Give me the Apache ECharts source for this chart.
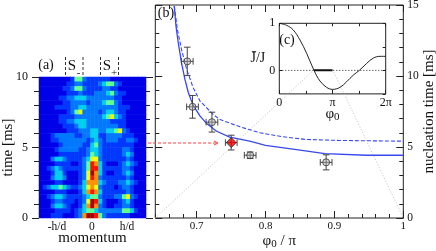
<!DOCTYPE html>
<html>
<head>
<meta charset="utf-8">
<style>html,body{margin:0;padding:0;background:#fff}#c{width:436px;height:251px}</style>
<script src="https://cdn.jsdelivr.net/npm/echarts@6/dist/echarts.min.js"></script>
</head>
<body>
<div id="c"></div>
<script>
// Panel (a): intensity by row (top = 10 ms, bottom = 0 ms) and momentum bin, read by eye on a 0-9 scale
const heatRows = [
[1,1,1,1,1,1,1,1,2,5,5,3,2,2,2,2,2,2,1,1,1,1,1,1,1,1,1],
[1,1,1,1,1,1,1,2,2,3,3,2,2,2,2,3,4,5,5,3,2,1,1,1,1,1,1],
[1,1,1,1,1,1,2,2,3,5,5,3,2,2,2,2,3,3,2,2,1,1,1,1,1,1,1],
[1,1,1,1,1,1,1,2,2,2,3,2,2,2,3,3,3,4,5,3,2,2,1,1,1,1,1],
[1,1,1,1,1,2,2,3,3,4,4,4,3,3,3,3,3,3,3,2,2,1,1,1,1,1,1],
[1,1,1,1,1,1,2,2,3,3,3,3,2,3,3,3,4,5,5,3,2,1,1,1,1,1,1],
[1,1,1,1,2,2,2,2,3,3,4,4,3,3,3,3,3,3,3,3,2,2,2,1,1,1,1],
[1,1,1,1,1,1,1,2,3,5,6,3,3,3,3,2,3,4,4,3,2,2,1,1,1,1,1],
[1,1,1,1,1,2,2,2,2,3,3,3,3,3,3,3,4,5,6,4,3,2,1,1,1,1,1],
[1,1,1,1,1,2,2,3,3,4,4,4,3,3,3,3,3,3,2,2,2,2,1,1,1,1,1],
[1,1,1,1,1,1,2,2,2,3,4,4,3,3,3,3,3,3,3,3,2,2,1,1,1,1,1],
[1,1,1,1,1,1,1,2,2,2,3,3,3,4,4,3,3,4,4,5,6,3,2,1,1,1,1],
[1,1,1,2,3,3,3,3,3,2,2,3,3,4,4,2,2,3,3,3,3,2,2,2,1,1,1],
[1,1,1,2,2,3,3,3,3,3,3,3,2,3,4,3,2,3,3,3,2,2,3,3,2,1,1],
[1,1,1,1,1,2,3,3,3,3,3,2,2,4,5,3,2,2,2,2,2,2,2,2,1,1,1],
[1,1,1,1,2,3,3,3,3,3,2,2,3,4,4,3,2,2,2,2,2,3,3,2,1,1,1],
[1,1,1,1,1,2,2,2,2,2,2,2,3,5,4,3,2,2,2,2,2,3,4,3,1,1,1],
[1,1,1,3,4,4,3,2,2,2,2,3,4,6,6,3,2,2,2,2,2,2,3,2,1,1,1],
[1,1,1,1,2,2,2,2,1,1,2,3,5,8,7,4,2,1,1,1,2,3,4,3,2,1,1],
[1,1,2,3,4,3,2,2,2,2,2,3,5,8,8,4,2,2,2,2,2,3,3,2,1,1,1],
[1,1,1,2,4,4,2,1,1,1,2,3,6,9,7,4,2,1,1,2,2,3,4,3,1,1,1],
[1,1,1,3,4,4,3,1,1,1,2,3,6,8,7,3,2,2,2,2,2,2,3,2,1,1,1],
[1,1,1,1,2,2,1,1,1,1,2,4,7,7,7,4,3,2,2,2,3,3,4,3,2,1,1],
[1,2,3,4,4,5,4,3,2,2,3,4,6,7,6,3,2,2,2,1,2,3,3,2,1,1,1],
[1,1,1,1,2,2,2,1,1,1,2,4,7,8,7,4,2,2,2,2,2,2,3,2,1,1,1],
[1,1,2,3,4,4,3,2,2,2,2,3,4,5,5,3,2,2,2,3,3,5,6,3,2,1,1],
[1,1,1,2,3,3,2,2,2,1,2,3,6,9,8,4,2,1,1,1,2,3,4,2,1,1,1],
[1,1,1,3,4,4,3,2,1,1,2,4,7,9,7,3,2,1,1,2,2,3,3,2,1,1,1],
[1,1,1,1,2,2,2,2,1,2,3,4,5,5,4,3,3,3,3,3,3,5,5,4,2,1,1],
[1,1,1,2,2,2,1,1,1,2,3,7,9,9,8,5,3,2,2,2,2,2,2,1,1,1,1]
];
const jet = ['#00009a','#0000e8','#0038ff','#0078ff','#00d0f0','#60ff90','#f0ff10','#ff9000','#ff1000','#a80000'];
const momentumTicks = [-1,0,1];
const momentumTickLabels = ['-h/d','0','h/d'];

// Panel (b): nucleation time curves and measured points
const solidX = [0.6675,0.670,0.6733,0.678,0.683,0.688,0.695,0.705,0.7145,0.729,0.748,0.777,0.8,0.845,0.886,0.946,1];
const solidY = [14.93,13.52,12.35,10.94,9.76,8.82,7.93,7.17,6.65,6.11,5.69,5.41,5.12,4.82,4.54,4.42,4.42];
const dashedX = [0.6675,0.672,0.678,0.6855,0.695,0.705,0.724,0.734,0.763,0.792,0.825,0.859,0.908,1];
const dashedY = [14.93,13.29,11.88,10.47,9.17,8.23,7.29,6.93,6.42,6.0,5.72,5.53,5.46,5.41];
const pointX = [0.6864,0.694,0.7222,0.7502,0.7777,0.888];
const pointY = [11.03,7.83,6.75,5.31,4.42,3.92];
const pointXErr = [0.0085,0.0085,0.0085,0.0085,0.0085,0.0085];
const pointYErr = [1.0,0.8,0.7,0.52,0.23,0.53];
const highlightedPoint = 3;
const guideLeftX = [0.64,0.8704];
const guideLeftY = [0,10.44];
const guideRightX = [0.8974,1];
const guideRightY = [10.44,0];

// Panel (c): J-bar / J against phi0 / pi
const insetX = [0,0.138,0.263,0.389,0.514,0.652,0.765,0.89,1,1.141,1.266,1.392,1.505,1.643,1.768,1.893,2];
const insetY = [1,0.957,0.858,0.645,0.362,0,-0.227,-0.362,-0.404,-0.362,-0.241,-0.1,0,0.149,0.262,0.298,0.298];
const zeroLineX = [0,2];
const zeroLineY = [0,0];
const thickX = [0.652,1];
const thickY = [0,0];

const zip = (a,b) => a.map((v,i)=>[v,b[i]]);
const steps = (a,b,s) => { const o=[]; for(let v=a; v<=b+1e-9; v+=s) o.push(+v.toFixed(4)); return o; };
const FONT = '"Liberation Serif","Times New Roman",serif';
const INK = '#222';

const heatData = [];
heatRows.forEach((row,r)=>row.forEach((v,c)=>heatData.push([c,r,v])));

const G = {a:1,b:2,c:3};
const xAxes = [], yAxes = [];
function base(gridIndex,position,min,max,ticks,len,inside,extra){
  return Object.assign({
    type:'value',gridIndex,position,min,max,
    splitLine:{show:false},
    nameMoveOverlap:false,
    axisLine:{show:false,onZero:false},
    axisTick:{show:true,customValues:ticks,length:len,inside,lineStyle:{color:INK,width:1}},
    axisLabel:{show:false,customValues:ticks}
  },extra||{});
}
function labelStyle(size,margin,values,fmt){
  return {show:true,customValues:values,fontSize:size,margin,color:'#111',fontFamily:FONT,formatter:fmt,hideOverlap:false,showMinLabel:true,showMaxLabel:true};
}
// heat categories
xAxes.push({type:'category',gridIndex:0,data:heatRows[0].map((_,i)=>i),show:false});
yAxes.push({type:'category',gridIndex:0,data:heatRows.map((_,i)=>i),inverse:true,show:false});
// (a) overlay
const aMin=-1.514,aMax=1.543;
xAxes.push(base(G.a,'bottom',aMin,aMax,momentumTicks,0,false,{
  axisTick:{show:false},
  axisLabel:labelStyle(11.5,3,momentumTicks,v=>momentumTickLabels[momentumTicks.indexOf(v)]),
  name:'momentum',nameLocation:'middle',nameGap:13,nameTextStyle:{fontSize:15,fontFamily:FONT,color:'#111'}
}));
yAxes.push(base(G.a,'left',0,10,[0,5,10],7,false,{
  axisLabel:labelStyle(12,11,[0,5,10]),
  name:'time [ms]',nameLocation:'middle',nameGap:23,nameRotate:90,nameTextStyle:{fontSize:15,fontFamily:FONT,color:'#111'}
}));
yAxes.push(base(G.a,'left',0,10,steps(0,10,1),5,false));
yAxes.push(base(G.a,'right',0,10,[0,5,10],7,false));
yAxes.push(base(G.a,'right',0,10,steps(0,10,1),4,false));
// (b)
const bx0=0.64,bx1=1;
const bMajor=[0.7,0.8,0.9,1];
xAxes.push(base(G.b,'bottom',bx0,bx1,bMajor,7,true,{
  axisLabel:labelStyle(11,3,bMajor,v=>v===1?'1':v.toFixed(1)),
  name:'{a|φ}{s|0}{a| / π}',nameLocation:'middle',nameGap:14,
  nameTextStyle:{rich:{a:{fontSize:15,fontFamily:FONT,color:'#111'},s:{fontSize:11,fontFamily:FONT,color:'#111',padding:[7,0,0,0]}}}
}));
const bxIdx = xAxes.length-1;
xAxes.push(base(G.b,'bottom',bx0,bx1,steps(bx0,bx1,0.02),4,true));
xAxes.push(base(G.b,'top',bx0,bx1,bMajor,7,true));
xAxes.push(base(G.b,'top',bx0,bx1,steps(bx0,bx1,0.02),4,true));
yAxes.push(base(G.b,'right',0,15,[0,5,10,15],7,true,{
  axisLabel:labelStyle(11.5,4,[0,5,10,15]),
  name:'nucleation time [ms]',nameLocation:'middle',nameGap:18,nameRotate:90,nameTextStyle:{fontSize:15,fontFamily:FONT,color:'#111'}
}));
const byIdx = yAxes.length-1;
yAxes.push(base(G.b,'right',0,15,steps(0,15,1),4,true));
yAxes.push(base(G.b,'left',0,15,[0,5,10,15],7,true));
yAxes.push(base(G.b,'left',0,15,steps(0,15,1),4,true));
// (c)
xAxes.push(base(G.c,'bottom',0,2,[0,1,2],4,true,{
  axisLabel:labelStyle(12,3,[0,1,2],v=>['0','π','2π'][v]),
  name:'{a|φ}{s|0}',nameLocation:'middle',nameGap:11,
  nameTextStyle:{rich:{a:{fontSize:15,fontFamily:FONT,color:'#111'},s:{fontSize:11,fontFamily:FONT,color:'#111',padding:[7,0,0,0]}}}
}));
const cxIdx = xAxes.length-1;
xAxes.push(base(G.c,'bottom',0,2,[0.5,1.5],3,true));
xAxes.push(base(G.c,'top',0,2,[0,0.5,1,1.5,2],3,true));
yAxes.push(base(G.c,'left',-0.5,1,[0,1],3,true,{
  axisLabel:labelStyle(12,4,[0,1]),
  name:'J̄/J',nameLocation:'middle',nameGap:14,nameRotate:0,nameTextStyle:{fontSize:14,fontFamily:FONT,color:'#111'}
}));
const cyIdx = yAxes.length-1;
yAxes.push(base(G.c,'right',-0.5,1,[-0.5,0,0.5,1],3,true));

const pointData = pointX.map((x,i)=>({
  value:[x,pointY[i]],
  symbol:i===highlightedPoint?'diamond':'circle',
  symbolSize:i===highlightedPoint?10:7,
  itemStyle:{color:i===highlightedPoint?'#f00000':'rgba(170,170,170,0.55)',borderColor:'#333',borderWidth:1}
}));
const errData = pointX.map((x,i)=>[x,pointY[i],pointXErr[i],pointYErr[i]]);

const series = [
  {type:'heatmap',xAxisIndex:0,yAxisIndex:0,data:heatData,progressive:0,silent:true,itemStyle:{borderWidth:0}},
  {type:'line',xAxisIndex:bxIdx,yAxisIndex:byIdx,data:zip(guideLeftX,guideLeftY),showSymbol:false,silent:true,clip:false,z:1,lineStyle:{color:'#c9bcbc',width:1,type:[1,2]}},
  {type:'line',xAxisIndex:bxIdx,yAxisIndex:byIdx,data:zip(guideRightX,guideRightY),showSymbol:false,silent:true,clip:false,z:1,lineStyle:{color:'#c9bcbc',width:1,type:[1,2]}},
  {type:'line',xAxisIndex:bxIdx,yAxisIndex:byIdx,data:zip(solidX,solidY),showSymbol:false,silent:true,z:2,lineStyle:{color:'#3a48f0',width:1.3}},
  {type:'line',xAxisIndex:bxIdx,yAxisIndex:byIdx,data:zip(dashedX,dashedY),showSymbol:false,silent:true,z:2,lineStyle:{color:'#3a48f0',width:1.1,type:[4,2]}},
  {type:'custom',xAxisIndex:bxIdx,yAxisIndex:byIdx,data:errData,silent:true,z:3,
   renderItem(params,api){
     const x=api.value(0),y=api.value(1),dx=api.value(2),dy=api.value(3);
     const l=api.coord([x-dx,y]),r=api.coord([x+dx,y]),t=api.coord([x,y+dy]),b=api.coord([x,y-dy]);
     const cap=3.3,st={stroke:'#444',lineWidth:1,fill:null};
     const seg=(x1,y1,x2,y2)=>({type:'line',shape:{x1,y1,x2,y2},style:st});
     return {type:'group',children:[
       seg(l[0],l[1],r[0],r[1]),seg(t[0],t[1],b[0],b[1]),
       seg(l[0],l[1]-cap,l[0],l[1]+cap),seg(r[0],r[1]-cap,r[0],r[1]+cap),
       seg(t[0]-cap,t[1],t[0]+cap,t[1]),seg(b[0]-cap,b[1],b[0]+cap,b[1])
     ]};
   }},
  {type:'scatter',xAxisIndex:bxIdx,yAxisIndex:byIdx,data:pointData,silent:true,z:4},
  {type:'line',xAxisIndex:cxIdx,yAxisIndex:cyIdx,data:zip(zeroLineX,zeroLineY),showSymbol:false,silent:true,z:2,lineStyle:{color:'#222',width:1,type:[1,2]}},
  {type:'line',xAxisIndex:cxIdx,yAxisIndex:cyIdx,data:zip(thickX,thickY),showSymbol:false,silent:true,z:3,lineStyle:{color:'#111',width:2}},
  {type:'line',xAxisIndex:cxIdx,yAxisIndex:cyIdx,data:zip(insetX,insetY),smooth:0.35,showSymbol:false,silent:true,z:3,lineStyle:{color:'#222',width:1}}
];

const txt=(x,y,text,size,align)=>({type:'text',x,y,silent:true,style:{text,fontSize:size,fontFamily:FONT,fill:'#111',align:align||'center',verticalAlign:'middle'}});
const vdash=x=>({type:'line',silent:true,shape:{x1:x,y1:57,x2:x,y2:77},style:{stroke:'#333',lineWidth:1,lineDash:[3,2]}});
const graphic=[
  txt(46,65,'(a)',14),
  txt(72,66,'S',15),txt(78.5,73,'-',11),
  txt(107,66,'S',15),txt(114,73,'+',11),
  vdash(65.5),vdash(83),vdash(100.5),vdash(118.5),
  txt(166,13,'(b)',14),
  txt(287,40,'(c)',14),
  {type:'line',silent:true,z:5,shape:{x1:148,y1:143,x2:216,y2:143},style:{stroke:'#ff4040',lineWidth:1,lineDash:[3,2]}},
  {type:'polyline',silent:true,z:5,shape:{points:[[214,141],[218,143],[214,145]]},style:{stroke:'#ff4040',lineWidth:1,fill:null}}
];

const gridBase={outerBoundsMode:'none',containLabel:false};
const chart=echarts.init(document.getElementById('c'),null,{renderer:'canvas',width:436,height:251});
chart.setOption({
  animation:false,
  backgroundColor:'#fff',
  textStyle:{fontFamily:FONT},
  grid:[
    {...gridBase,left:39,top:77,width:107,height:141},
    {...gridBase,left:39,top:77,width:107,height:141,show:true,borderWidth:0,backgroundColor:'transparent'},
    {...gridBase,left:155.3,top:5,width:248,height:213,show:true,borderColor:INK,borderWidth:1,backgroundColor:'transparent'},
    {...gridBase,left:279.3,top:23.3,width:106.4,height:70.6,show:true,borderColor:INK,borderWidth:1,backgroundColor:'transparent'}
  ],
  xAxis:xAxes,yAxis:yAxes,
  visualMap:{show:false,seriesIndex:0,min:0,max:9,dimension:2,inRange:{color:jet}},
  series,graphic
});
</script>
</body>
</html>
